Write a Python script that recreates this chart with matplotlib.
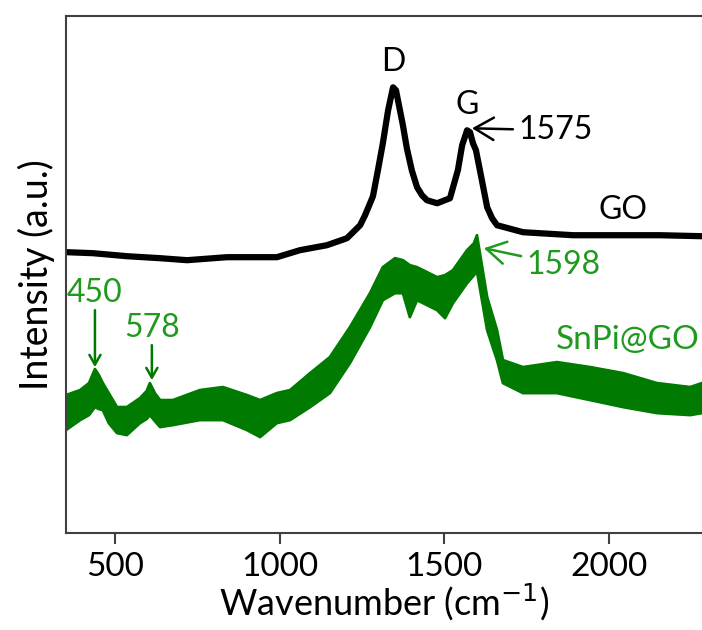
import numpy as np
import matplotlib
matplotlib.use('Agg')
import matplotlib.pyplot as plt

plt.rcParams['font.family'] = ['Lato', 'DejaVu Sans']

# GO spectrum (black)
go_w = [353, 432, 535, 636, 718, 839, 940, 991, 1061, 1143, 1204, 1244, 1259,
        1283, 1298, 1313, 1329, 1344, 1353, 1365, 1374, 1386, 1401, 1417, 1432,
        1447, 1478, 1517, 1541, 1554, 1569, 1578, 1587, 1596, 1608, 1617, 1630,
        1645, 1660, 1739, 1891, 2043, 2155, 2283]
go_i = [281, 280, 277, 275, 273, 276, 276, 276, 283, 288, 295, 308, 318,
        337, 363, 390, 423, 446, 443, 423, 408, 385, 363, 346, 338,
        333, 330, 335, 363, 388, 403, 401, 390, 383, 363, 348, 326,
        315, 308, 301, 298, 298, 298, 297]

# SnPi@GO spectrum (green): upper / lower edge of the noisy trace
sn_w = [350, 393, 420, 438, 450, 462, 480, 505, 535, 575, 595, 605, 620, 636,
        675, 757, 827, 900, 940, 991, 1031, 1092, 1152, 1213, 1274, 1313,
        1350, 1374, 1395, 1417, 1478, 1502, 1526, 1569, 1590, 1599, 1630,
        1660, 1678, 1739, 1842, 1943, 2043, 2146, 2247, 2283]
sn_hi = [138, 143, 150, 164, 158, 150, 140, 126, 126, 135, 142, 150, 140, 133,
         133, 143, 146, 138, 133, 140, 143, 160, 176, 206, 240, 266,
         275, 273, 268, 266, 256, 258, 263, 283, 290, 298, 236,
         203, 173, 166, 171, 166, 160, 150, 146, 150]
sn_lo = [103, 113, 118, 126, 124, 123, 110, 100, 98, 110, 114, 118, 112, 106,
         108, 113, 113, 103, 96, 110, 113, 126, 140, 170, 206, 233,
         240, 240, 216, 233, 223, 215, 230, 250, 258, 262, 203,
         173, 150, 140, 140, 133, 126, 120, 118, 120]

xticks = [500, 1000, 1500, 2000]

black = 'black'
green = '#007a00'
tgreen = '#1f9a1f'

fig = plt.figure(figsize=(7.02, 6.30), dpi=100)
ax = fig.add_axes([0.094, 0.154, 0.906, 0.820])

ax.plot(go_w, go_i, color=black, linewidth=4.5, solid_joinstyle='round')
ax.fill_between(sn_w, sn_lo, sn_hi, color=green, linewidth=0)
ax.plot(sn_w, sn_hi, color=green, linewidth=2.0, solid_joinstyle='round')
ax.plot(sn_w, sn_lo, color=green, linewidth=2.0, solid_joinstyle='round')

fs = 23
ax.text(1344, 471, 'D', fontsize=fs, ha='center', va='center', color=black)
ax.text(1569, 428, 'G', fontsize=fs, ha='center', va='center', color=black)
ax.annotate('1575', xy=(1584, 405), xytext=(1725, 403), fontsize=fs,
            ha='left', va='center', color=black,
            arrowprops=dict(arrowstyle='->,head_length=0.6,head_width=0.35',
                            color=black, lw=1.8, shrinkA=2, shrinkB=0))
ax.text(2043, 323, 'GO', fontsize=fs, ha='center', va='center', color=black)

ax.annotate('1598', xy=(1620, 285), xytext=(1750, 268), fontsize=fs,
            ha='left', va='center', color=tgreen,
            arrowprops=dict(arrowstyle='->,head_length=0.6,head_width=0.35',
                            color=tgreen, lw=1.8, shrinkA=2, shrinkB=0))
ax.text(438, 240, '450', fontsize=fs, ha='center', va='center', color=tgreen)
ax.annotate('', xy=(438, 166), xytext=(438, 223),
            arrowprops=dict(arrowstyle='->,head_length=0.7,head_width=0.4',
                            color=green, lw=1.8, shrinkA=0, shrinkB=0))
ax.text(611, 205, '578', fontsize=fs, ha='center', va='center', color=tgreen)
ax.annotate('', xy=(611, 153), xytext=(611, 188),
            arrowprops=dict(arrowstyle='->,head_length=0.7,head_width=0.4',
                            color=green, lw=1.8, shrinkA=0, shrinkB=0))
ax.text(2058, 193, 'SnPi@GO', fontsize=24, ha='center', va='center', color=tgreen)

ax.set_xlim(350, 2283)
ax.set_ylim(0, 517)
ax.set_xticks(xticks)
ax.set_yticks([])
ax.tick_params(axis='x', direction='out', length=8, width=1.5,
               color='#404040', labelsize=24, pad=6)
for side in ['left', 'top', 'bottom']:
    ax.spines[side].set_color('#404040')
    ax.spines[side].set_linewidth(1.5)
ax.spines['right'].set_visible(False)

ax.set_xlabel('Wavenumber (cm$^{-1}$)', fontsize=26, labelpad=0)
ax.set_ylabel('Intensity (a.u.)', fontsize=27, labelpad=8)

fig.savefig('out.png', dpi=100)
